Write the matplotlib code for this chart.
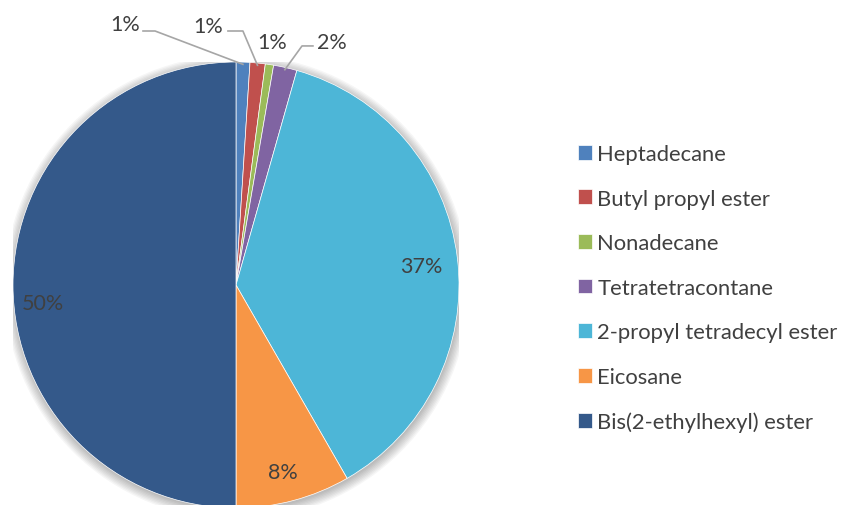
import numpy as np
import matplotlib
matplotlib.use("Agg")
from matplotlib import pyplot as plt
from matplotlib.patches import Circle

plt.rcParams['font.family'] = ['Lato', 'DejaVu Sans']

names = ["Heptadecane", "Butyl propyl ester", "Nonadecane", "Tetratetracontane",
         "2-propyl tetradecyl ester", "Eicosane", "Bis(2-ethylhexyl) ester"]
shares = [1.0, 1.1, 0.6, 1.7, 37.3, 8.3, 50.0]
colors = ["#4F81BD", "#C0504D", "#9BBB59", "#8064A2", "#4DB6D7", "#F79646", "#34598A"]

# outer labels for the thin slices (label centre, leader start, leader elbow), None = no leader
outer = {
    0: ((-0.498, 1.170), (-0.417, 1.139), (-0.363, 1.139)),
    1: ((-0.126, 1.161), (-0.036, 1.139), (0.031, 1.139)),
    2: ((0.161, 1.090), None, None),
    3: ((0.430, 1.090), (0.345, 1.072), (0.296, 1.072)),
}
# inner labels: angular nudge (deg) and radius
nudge = {4: -1.2, 5: -1.0, 6: 5.3}
radius = {4: 0.835, 5: 0.865, 6: 0.87}
text_col = "#404040"

fig = plt.figure(figsize=(8.42, 5.06), dpi=100)
ax = fig.add_axes([13 / 842, -3 / 506, 446 / 842, 446 / 506])

# soft shadow
for k in range(8):
    ax.add_patch(Circle((0.004, -0.01), 1.0 + 0.006 * k, color="black",
                        alpha=0.035, lw=0, zorder=0))

wedges, _ = ax.pie(shares, colors=colors, startangle=90, counterclock=False,
                   wedgeprops=dict(edgecolor="#ffffff", linewidth=0.5))
for w in wedges:
    w.set_zorder(2)

for i, w in enumerate(wedges):
    mid = np.deg2rad((w.theta1 + w.theta2) / 2 + nudge.get(i, 0))
    lab = "%d%%" % round(shares[i])
    if i in outer:
        pos, start, elbow = outer[i]
        ax.text(pos[0], pos[1], lab, ha="center", va="center", fontsize=15.5, color=text_col)
        if start is not None:
            edge = (0.99 * np.cos(mid), 0.99 * np.sin(mid))
            ax.plot([start[0], elbow[0], edge[0]], [start[1], elbow[1], edge[1]],
                    color="#A6A6A6", lw=1.2, zorder=3, clip_on=False)
    else:
        r = radius[i]
        ax.text(r * np.cos(mid), r * np.sin(mid), lab, ha="center", va="center",
                fontsize=15.5, color=text_col, zorder=4)

ax.set_xlim(-1, 1)
ax.set_ylim(-1, 1)
ax.set_aspect("equal")
ax.axis("off")

leg = fig.legend(wedges, names, loc="upper left", bbox_to_anchor=(578 / 842, 1 - 145 / 506),
                 frameon=False, fontsize=15.8, handlelength=0.66, handleheight=0.66,
                 handletextpad=0.22, labelspacing=1.12, borderpad=0, borderaxespad=0,
                 labelcolor=text_col)

fig.savefig("out.png", dpi=100)
